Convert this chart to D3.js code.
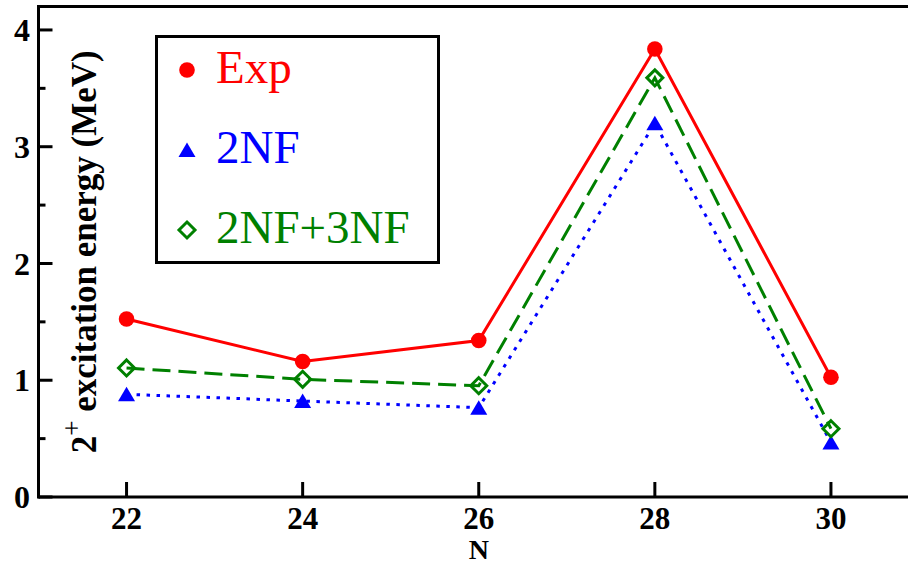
<!DOCTYPE html>
<html><head><meta charset="utf-8">
<script src="https://cdn.jsdelivr.net/npm/d3@7"></script>
<style>
html,body{margin:0;padding:0;background:#fff;}
svg{display:block;}
text{font-family:"Liberation Serif","Tinos","Times New Roman",Times,"DejaVu Serif",serif;}
</style></head>
<body>
<svg id="chart" width="908" height="564"></svg>
<script>
const categories = [22, 24, 26, 28, 30];
const expValues = [1.525, 1.16, 1.34, 3.837, 1.025];
const nf2Values = [0.88, 0.822, 0.765, 3.2, 0.467];
const nf23Values = [1.105, 1.008, 0.953, 3.59, 0.585];
const xTicks = [22, 24, 26, 28, 30];
const yTicks = [0, 1, 2, 3, 4];
const yMinorTicks = [0.5, 1.5, 2.5, 3.5];
const seriesNames = ["Exp", "2NF", "2NF+3NF"];

const svg = d3.select("#chart");
const x = d3.scaleLinear().domain([21, 31]).range([38.5, 919]);
const y = d3.scaleLinear().domain([0, 4.2]).range([497, 6.6]);

const colors = {"Exp": "#ff0000", "2NF": "#0000ff", "2NF+3NF": "#008000"};

// frame lines
const axisW = 3;
svg.append("line").attr("x1", x(21)).attr("x2", 908).attr("y1", y(0)).attr("y2", y(0))
  .attr("stroke", "#000").attr("stroke-width", axisW);
svg.append("line").attr("x1", x(21)).attr("x2", 908).attr("y1", y(4.2)).attr("y2", y(4.2))
  .attr("stroke", "#000").attr("stroke-width", axisW);
svg.append("line").attr("x1", x(21)).attr("x2", x(21)).attr("y1", y(0) + 1.5).attr("y2", y(4.2) - 1.5)
  .attr("stroke", "#000").attr("stroke-width", axisW);

// y ticks (inward)
const yAxis = svg.append("g");
yAxis.selectAll("line.maj").data(yTicks).join("line").attr("class", "maj")
  .attr("x1", x(21)).attr("x2", x(21) + 14).attr("y1", d => y(d)).attr("y2", d => y(d))
  .attr("stroke", "#000").attr("stroke-width", axisW);
yAxis.selectAll("line.min").data(yMinorTicks).join("line").attr("class", "min")
  .attr("x1", x(21)).attr("x2", x(21) + 7).attr("y1", d => y(d)).attr("y2", d => y(d))
  .attr("stroke", "#000").attr("stroke-width", axisW);
yAxis.selectAll("text").data(yTicks).join("text")
  .attr("x", 30).attr("y", d => y(d)).attr("dy", "0.35em")
  .attr("text-anchor", "end").attr("font-size", 32).attr("font-weight", "bold")
  .text(d => d);

// x ticks (inward)
const xAxis = svg.append("g");
xAxis.selectAll("line").data(xTicks).join("line")
  .attr("x1", d => x(d)).attr("x2", d => x(d)).attr("y1", y(0)).attr("y2", y(0) - 15)
  .attr("stroke", "#000").attr("stroke-width", axisW);
xAxis.selectAll("text").data(xTicks).join("text")
  .attr("x", d => x(d)).attr("y", 529)
  .attr("text-anchor", "middle").attr("font-size", 31).attr("font-weight", "bold")
  .text(d => d);

svg.append("text").attr("x", (x(21) + x(31)) / 2).attr("y", 559)
  .attr("text-anchor", "middle").attr("font-size", 28).attr("font-weight", "bold").text("N");

// y label
const yl = svg.append("text")
  .attr("transform", `translate(96,${(y(0) + y(4.2)) / 2}) rotate(-90)`)
  .attr("text-anchor", "middle").attr("font-size", 35).attr("font-weight", "bold");
yl.append("tspan").text("2");
yl.append("tspan").attr("dy", -15).attr("font-size", 27).attr("font-weight", "normal").text("+");
yl.append("tspan").attr("dy", 15).text(" excitation energy (MeV)");

// lines
const line = d3.line().x((d, i) => x(categories[i])).y(d => y(d));
svg.append("path").datum(nf2Values).attr("d", line).attr("fill", "none")
  .attr("stroke", colors["2NF"]).attr("stroke-width", 3).attr("stroke-dasharray", "3.5,6.5");
svg.append("path").datum(nf23Values).attr("d", line).attr("fill", "none")
  .attr("stroke", colors["2NF+3NF"]).attr("stroke-width", 3).attr("stroke-dasharray", "18,8");
svg.append("path").datum(expValues).attr("d", line).attr("fill", "none")
  .attr("stroke", colors["Exp"]).attr("stroke-width", 3);

// markers
function circleMark(g, cx, cy) {
  g.append("circle").attr("cx", cx).attr("cy", cy).attr("r", 7.8).attr("fill", colors["Exp"]);
}
function triMark(g, cx, cy) {
  g.append("path").attr("d", `M${cx},${cy - 7.5}L${cx + 8.5},${cy + 7}L${cx - 8.5},${cy + 7}Z`)
    .attr("fill", colors["2NF"]);
}
function diaMark(g, cx, cy) {
  g.append("path").attr("d", `M${cx},${cy - 8}L${cx + 8},${cy}L${cx},${cy + 8}L${cx - 8},${cy}Z`)
    .attr("fill", "none").attr("stroke", colors["2NF+3NF"]).attr("stroke-width", 3);
}
const mk = svg.append("g");
nf2Values.forEach((v, i) => triMark(mk, x(categories[i]), y(v)));
nf23Values.forEach((v, i) => diaMark(mk, x(categories[i]), y(v)));
expValues.forEach((v, i) => circleMark(mk, x(categories[i]), y(v)));

// legend
const lg = svg.append("g");
lg.append("rect").attr("x", 156.5).attr("y", 36.5).attr("width", 282).attr("height", 226)
  .attr("fill", "#fff").attr("stroke", "#000").attr("stroke-width", 3);
const legY = [70, 150, 230];
const markers = [circleMark, triMark, diaMark];
seriesNames.forEach((n, i) => {
  markers[i](lg, 187, legY[i]);
  lg.append("text").attr("x", 216).attr("y", legY[i] + 13).attr("font-size", 47)
    .attr("fill", colors[n]).text(n);
});
</script>
</body></html>
